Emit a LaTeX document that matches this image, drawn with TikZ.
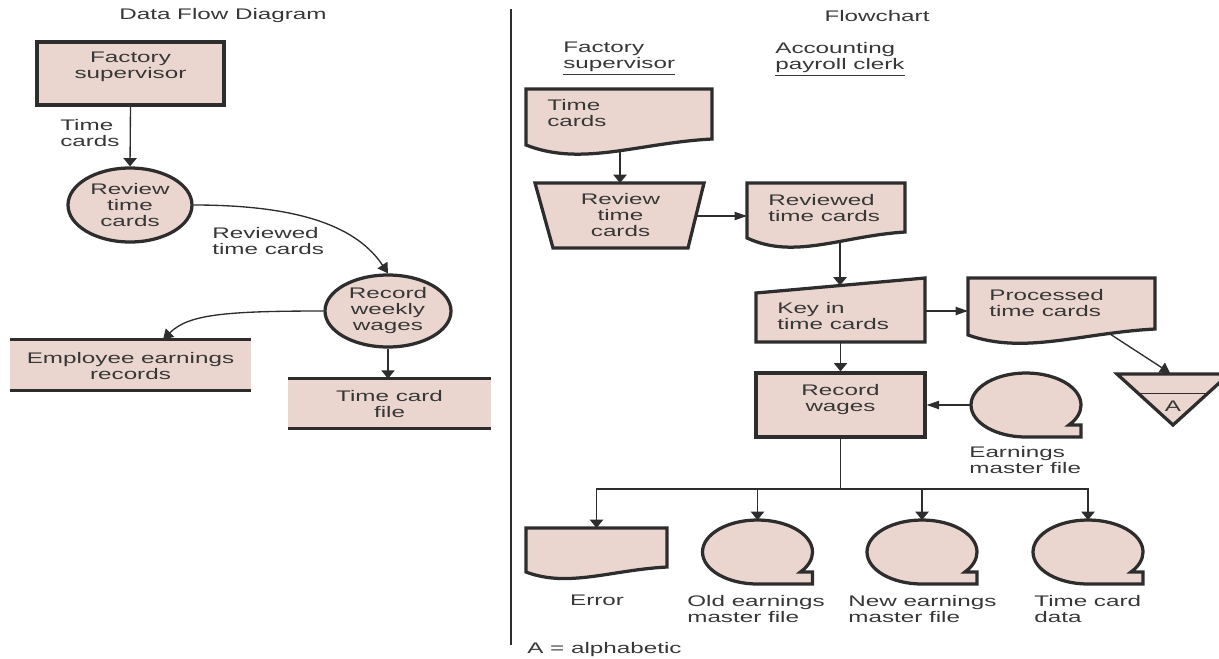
\documentclass[tikz,border=0pt]{standalone}
\usepackage{fontspec}
\setmainfont[FakeStretch=1.58]{Liberation Sans}
\usetikzlibrary{arrows.meta,shapes.geometric,backgrounds}
\definecolor{boxfill}{RGB}{234,214,207}
\definecolor{ink}{RGB}{45,45,45}
\definecolor{txt}{RGB}{55,55,55}

% magnetic tape symbol: centre x, centre y, name of its top/left points
\newcommand\tapesym[3]{%
  \draw[symb] (#1,#2+32) arc[start angle=90,end angle=398.7,x radius=55,y radius=32]
    -- (#1+55,#2+20) -- (#1+55,#2+32) -- cycle;
  \coordinate (#3T) at (#1,#2-32);
  \coordinate (#3L) at (#1-55,#2);
}

\begin{document}
\begin{tikzpicture}[x=0.6pt,y=-0.6pt,
  font=\fontsize{9.2}{9.6}\selectfont,
  symb/.style={draw=ink,line width=1.95pt,fill=boxfill,line join=miter},
  conn/.style={draw=ink,line width=0.8pt},
  varr/.style={conn,-{Triangle[length=5pt,width=8pt]}},
  harr/.style={conn,-{Triangle[length=7.5pt,width=5pt]}},
  darr/.style={conn,-{Triangle[length=6pt,width=7pt]}},
  lbl/.style={text=txt,inner sep=0pt,align=left},
  ctr/.style={text=txt,inner sep=0pt,align=center},
]
\useasboundingbox (0,0) rectangle (1219,658);
\clip (0,0) rectangle (1219,658);

% headings and divider
\node[ctr] (hdfd) at (223,16) {Data Flow Diagram};
\node[ctr] (hfc) at (877,16) {Flowchart};
\coordinate (divtop) at (511,9);
\coordinate (divbot) at (511,645);
\draw[conn] (divtop) -- (divbot);

% ---------------- data flow diagram ----------------
\node[symb,minimum width=112.2pt,minimum height=37.8pt,inner sep=0pt] (fs) at (130.5,73.5) {};
\node[ctr] (fst) at (130.5,67) {Factory\\supervisor};
\node[symb,ellipse,minimum width=74.4pt,minimum height=44.4pt,inner sep=0pt,
      text=txt,align=center] (rv) at (130,205) {Review\\time\\cards};
\node[symb,ellipse,minimum width=75.6pt,minimum height=43.2pt,inner sep=0pt,
      text=txt,align=center] (rw) at (388,311) {Record\\weekly\\wages};

\node[fill=boxfill,minimum width=144.6pt,minimum height=30pt,inner sep=0pt] (eer) at (130.5,365) {};
\draw[ink,line width=1.6pt] (eer.north west) -- (eer.north east)
                            (eer.south west) -- (eer.south east);
\node[ctr] (eert) at (130.5,366) {Employee earnings\\records};

\node[fill=boxfill,minimum width=121.8pt,minimum height=29.4pt,inner sep=0pt] (tcf) at (389.5,403.5) {};
\draw[ink,line width=1.6pt] (tcf.north west) -- (tcf.north east)
                            (tcf.south west) -- (tcf.south east);
\node[ctr] (tcft) at (389.5,404) {Time card\\file};

\node[lbl,anchor=north west] (tcl) at (60,119) {Time\\cards};
\node[lbl,anchor=north west] (rtl) at (212,227) {Reviewed\\time cards};

\begin{scope}[on background layer]
  \draw[varr] (fs.south) -- (rv.north);
  \draw[darr] (rv.east) .. controls +(110,0) and +(-30,-45) .. (rw.north);
  \draw[darr] (rw.west) .. controls +(-100,0) and +(25,-25) .. ([xshift=19.5pt]eer.north);
  \draw[varr] (rw.south) -- (rw.south |- tcf.north);
\end{scope}

% ---------------- flowchart ----------------
\node[lbl,anchor=north west] (hfs) at (563,42) {Factory\\\underline{supervisor}};
\node[lbl,anchor=north west] (hpc) at (775,42) {Accounting\\\underline{payroll clerk}};

% time cards document
\draw[symb] (526,89) -- (712,89) -- (712,139) .. controls (637.6,143) and (581.8,167) .. (526,145) -- cycle;
\node[lbl,anchor=north west] (tcd) at (547,99) {Time\\cards};
\coordinate (tcdB) at (620,150);

% manual operation
\draw[symb] (535,183) -- (704,183) -- (688,248) -- (553,248) -- cycle;
\node[ctr] (rvt) at (620.5,215) {Review\\time\\cards};
\coordinate (rvT) at (620,183);
\coordinate (rvR) at (696,216);

% reviewed time cards document
\draw[symb] (747,183) -- (905,183) -- (905,232) .. controls (841.8,236) and (794.4,260) .. (747,238) -- cycle;
\node[lbl,anchor=north west] (rdt) at (768,194) {Reviewed\\time cards};
\coordinate (rdL) at (747,216);
\coordinate (rdB) at (840,241);

% keyed input
\draw[symb] (756,293) -- (925,278) -- (925,342) -- (756,342) -- cycle;
\node[lbl,anchor=north west] (kit) at (777,302) {Key in\\time cards};
\coordinate (kiT) at (840,285.5);
\coordinate (kiR) at (925,311);
\coordinate (kiB) at (840.5,342);

% processed time cards document
\draw[symb] (968,278) -- (1155,278) -- (1155,329) .. controls (1080.2,333) and (1024.1,355) .. (968,335) -- cycle;
\node[lbl,anchor=north west] (pdt) at (989,289) {Processed\\time cards};
\coordinate (pdL) at (968,311);
\coordinate (pdB) at (1110,334);

% offline file
\draw[symb] (1117,374) -- (1229,374) -- (1173,425) -- cycle;
\draw[ink,line width=0.6pt] (1138,393) -- (1208,393);
\node[ctr] (tria) at (1173,406) {A};
\coordinate (triT) at (1170,373);

% record wages process
\node[symb,minimum width=101.4pt,minimum height=38.4pt,inner sep=0pt] (rw2) at (840.5,405) {};
\node[ctr,anchor=north] (rw2t) at (840.5,384) {Record\\wages};

% earnings master file
\tapesym{1026}{405}{emf}
\node[lbl,anchor=north west] (emft) at (969,446) {Earnings\\master file};

% outputs
\draw[symb] (526,528) -- (667,528) -- (667,567) .. controls (610.6,570) and (568.3,588) .. (526,572) -- cycle;
\coordinate (errT) at (596.5,528);
\tapesym{757.5}{552}{old}
\tapesym{922}{552}{new}
\tapesym{1088}{552}{tcd}

\node[ctr,anchor=north] (errl) at (597,595) {Error};
\node[lbl,anchor=north west] (oldl) at (687,595) {Old earnings\\master file};
\node[lbl,anchor=north west] (newl) at (848,595) {New earnings\\master file};
\node[lbl,anchor=north west] (tcdl) at (1034,595) {Time card\\data};
\node[lbl,anchor=north west] (key) at (527,642) {A = alphabetic};

\coordinate (jn) at (840.5,489);

\begin{scope}[on background layer]
  \draw[varr] (tcdB) -- (rvT);
  \draw[harr] (rvR) -- (rdL);
  \draw[varr] (rdB) -- (kiT);
  \draw[harr] (kiR) -- (pdL);
  \draw[darr] (pdB) -- (triT);
  \draw[varr] (kiB) -- (rw2.north);
  \draw[harr] (emfL) -- (rw2.east);
  \draw[conn] (rw2.south) -- (jn);
  \draw[varr] (jn) -| (errT);
  \draw[varr] (jn) -| (oldT);
  \draw[varr] (jn) -| (newT);
  \draw[varr] (jn) -| (tcdT);
\end{scope}
\end{tikzpicture}
\end{document}
